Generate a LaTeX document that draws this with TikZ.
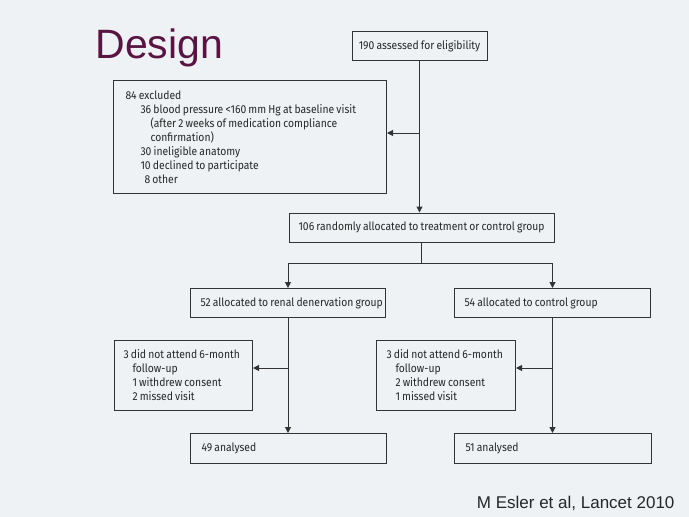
\documentclass[tikz,border=0pt]{standalone}
\usepackage{fontspec}
\setmainfont{Liberation Sans}
\newfontfamily\boxfont[FakeStretch=0.9,WordSpace=0.8]{Fira Sans}
\usetikzlibrary{arrows.meta}
\definecolor{bg}{HTML}{EEF2F4}
\definecolor{titlec}{HTML}{5A1444}
\definecolor{ink}{HTML}{262626}
\definecolor{linec}{HTML}{333333}
\begin{document}
\begin{tikzpicture}[x=1pt,y=-1pt,
  box/.style={draw=linec, line width=1pt, rectangle, inner sep=0pt,
    font=\boxfont\fontsize{11.5}{14}\selectfont, text=ink},
  lbox/.style={box, anchor=north west, align=flush left},
  conn/.style={draw=linec, line width=1pt},
  arr/.style={conn, -{Triangle[length=6pt,width=6pt]}}]
\fill[bg] (0,0) rectangle (689,517);
\useasboundingbox (0,0) rectangle (689,517);

\node[anchor=base west, text=titlec, font=\fontsize{41}{41}\selectfont] (title) at (92,58) {Design};
\node[anchor=base east, text=black!85, font=\fontsize{17}{17}\selectfont] (cite) at (678,508) {M Esler et al, Lancet 2010};

\node[box, minimum width=135pt, minimum height=29pt] (b190) at (419.5,46) {190 assessed for eligibility};
\node[lbox, minimum height=113pt, inner xsep=12pt, text width=249pt] (excl) at (113,80) {84 excluded\\
\hspace*{15pt}36 blood pressure <160 mm Hg at baseline visit\\
\hspace*{25pt}(after 2 weeks of medication compliance\\
\hspace*{25pt}confirmation)\\
\hspace*{15pt}30 ineligible anatomy\\
\hspace*{15pt}10 declined to participate\\
\hspace*{19pt}8 other};
\node[box, minimum width=265pt, minimum height=29pt] (b106) at (421.5,227.5) {106 randomly allocated to treatment or control group};
\node[lbox, minimum height=29pt, inner xsep=10pt, text width=175pt] (b52) at (190,288) {\mbox{52 allocated to renal denervation group}};
\node[lbox, minimum height=29pt, inner xsep=10pt, text width=176pt] (b54) at (454,288) {54 allocated to control group};
\node[lbox, minimum height=70pt, inner xsep=9pt, text width=120pt] (dropL) at (114,340) {3 did not attend 6-month\\
\hspace*{9pt}follow-up\\
\hspace*{9pt}1 withdrew consent\\
\hspace*{9pt}2 missed visit};
\node[lbox, minimum height=70pt, inner xsep=10pt, text width=119pt] (dropR) at (376,340) {3 did not attend 6-month\\
\hspace*{9pt}follow-up\\
\hspace*{9pt}2 withdrew consent\\
\hspace*{9pt}1 missed visit};
\node[lbox, minimum height=30pt, inner xsep=11pt, text width=174pt] (b49) at (190,433) {49 analysed};
\node[lbox, minimum height=30pt, inner xsep=11pt, text width=175pt] (b51) at (454,433) {51 analysed};

\draw[arr] (b190.south) -- (b190.south |- b106.north);
\draw[arr] (b190.south |- 0,133) -- (excl.east |- 0,133);
\coordinate (split) at (b106.south |- 0,263);
\draw[conn] (b106.south) -- (split);
\draw[arr] (split) -| (b52.north);
\draw[arr] (split) -| (b54.north);
\draw[arr] (b52.south) -- (b52.south |- b49.north);
\draw[arr] (b54.south) -- (b54.south |- b51.north);
\draw[arr] (b52.south |- 0,368) -- (dropL.east |- 0,368);
\draw[arr] (b54.south |- 0,368) -- (dropR.east |- 0,368);
\end{tikzpicture}
\end{document}
